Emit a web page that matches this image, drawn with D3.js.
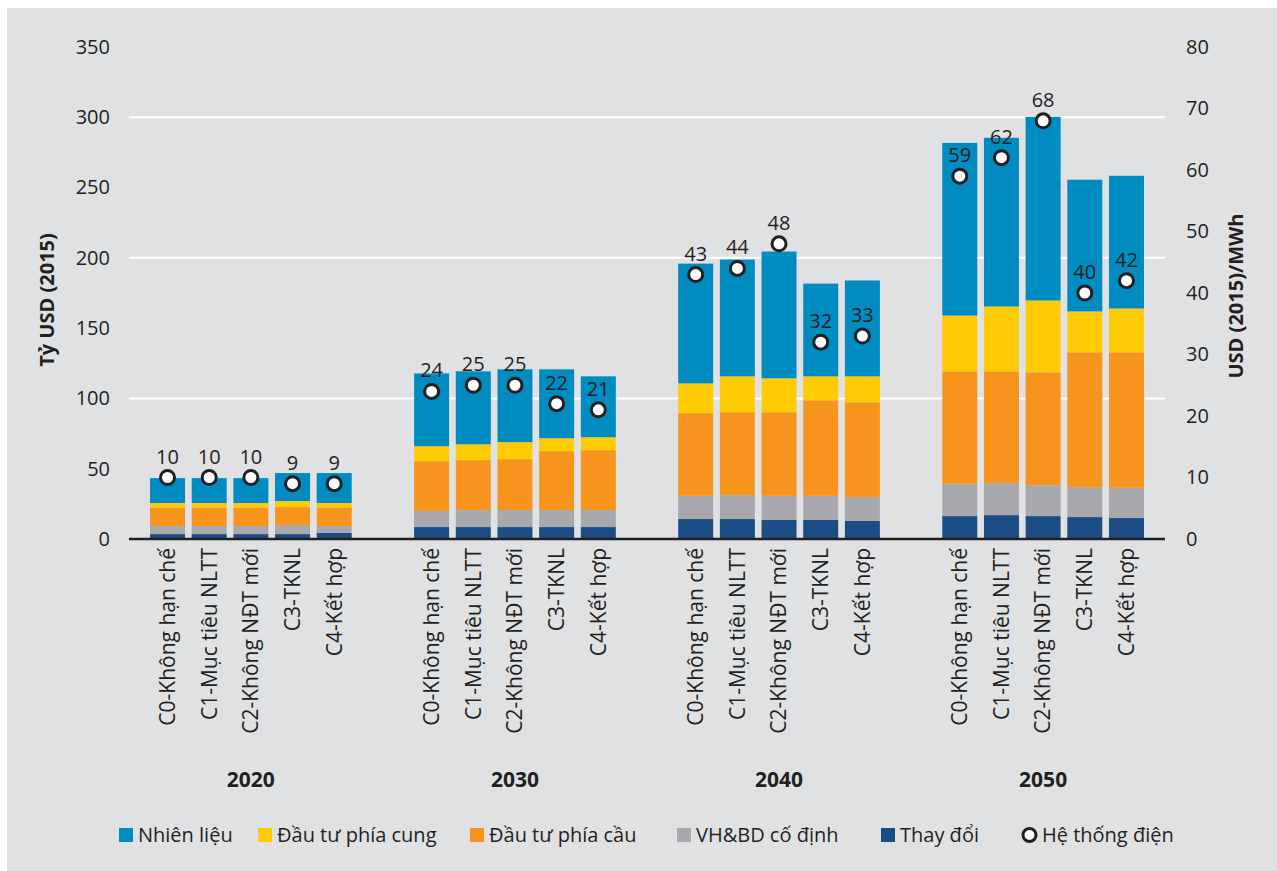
<!DOCTYPE html>
<html lang="vi">
<head>
<meta charset="utf-8">
<script src="https://cdn.jsdelivr.net/npm/d3@7"></script>
<style>
  html, body { margin: 0; padding: 0; background: #ffffff; }
  svg { display: block; }
  text { font-family: "Open Sans", "Noto Sans", sans-serif; fill: #231f20; }
</style>
</head>
<body>
<svg id="chart" width="1277" height="871"></svg>
<script>
// Years and scenarios on the category axis
const years = ["2020", "2030", "2040", "2050"];
const scenarios = ["C0-Không hạn chế", "C1-Mục tiêu NLTT", "C2-Không NĐT mới", "C3-TKNL", "C4-Kết hợp"];

// Cost components, billion USD (2015); 5 scenarios per year, year by year
const thayDoi    = [3.5, 3.5, 3.5, 3.5, 4.3,   8.5, 8.5, 8.5, 8.5, 8.5,   14.2, 14.2, 13.5, 13.5, 12.8,   16.3, 17.0, 16.3, 15.6, 14.9];
const vhbdCoDinh = [5.7, 5.7, 5.7, 6.4, 4.9,   11.4, 12.1, 12.1, 12.1, 12.1,   16.5, 17.0, 17.2, 17.2, 17.0,   23.0, 22.8, 22.0, 21.3, 21.5];
const dauTuCau   = [13.3, 13.3, 13.3, 12.8, 13.3,   35.5, 35.5, 36.2, 41.9, 42.6,   58.8, 59.0, 59.5, 68.0, 67.5,   80.0, 79.5, 80.3, 95.9, 96.4];
const dauTuCung  = [3.1, 3.1, 3.1, 4.3, 3.1,   10.6, 11.3, 12.1, 9.2, 9.2,   21.2, 25.5, 24.1, 17.0, 18.4,   39.7, 46.1, 51.1, 29.1, 31.2];
const nhienLieu  = [17.7, 17.7, 17.7, 19.9, 21.3,   51.8, 51.9, 51.8, 49.0, 43.3,   85.2, 83.1, 90.2, 66.0, 68.2,   122.8, 120.0, 130.6, 93.7, 94.4];

// System cost, USD (2015)/MWh (right axis)
const heThongDien = [10, 10, 10, 9, 9,   24, 25, 25, 22, 21,   43, 44, 48, 32, 33,   59, 62, 68, 40, 42];

// Axis ticks
const leftTicks = [0, 50, 100, 150, 200, 250, 300, 350];
const rightTicks = [0, 10, 20, 30, 40, 50, 60, 70, 80];
const gridTicks = [100, 200, 300];

// Series names (bottom to top of each stack) and legend entries
const seriesKeys = ["Thay đổi", "VH&BD cố định", "Đầu tư phía cầu", "Đầu tư phía cung", "Nhiên liệu"];
const seriesColors = ["#1b4c84", "#a7a9ac", "#f7941d", "#ffcb05", "#008bc1"];
const legendOrder = ["Nhiên liệu", "Đầu tư phía cung", "Đầu tư phía cầu", "VH&BD cố định", "Thay đổi"];
const lineLabel = "Hệ thống điện";

const ink = "#231f20";
const svg = d3.select("#chart");

// Panel background
svg.append("rect").attr("x", 7).attr("y", 8).attr("width", 1270).attr("height", 863).attr("fill", "#e0e1e3");

const plot = { left: 129, right: 1165, top: 47, bottom: 539 };

const x0 = d3.scaleBand().domain(years).range([plot.left, plot.right]).paddingInner(0.211).paddingOuter(0.067);
const x1 = d3.scaleBand().domain(scenarios).range([0, x0.bandwidth()]).paddingInner(0.16).paddingOuter(0.08);
const yL = d3.scaleLinear().domain([0, 350]).range([plot.bottom, plot.top]);
const yR = d3.scaleLinear().domain([0, 80]).range([plot.bottom, plot.top]);
const color = d3.scaleOrdinal().domain(seriesKeys).range(seriesColors);

// Rows: one per bar
const rows = [];
years.forEach((yr, i) => scenarios.forEach((sc, j) => {
  const k = i * scenarios.length + j;
  rows.push({
    year: yr, scenario: sc,
    "Thay đổi": thayDoi[k],
    "VH&BD cố định": vhbdCoDinh[k],
    "Đầu tư phía cầu": dauTuCau[k],
    "Đầu tư phía cung": dauTuCung[k],
    "Nhiên liệu": nhienLieu[k],
    system: heThongDien[k]
  });
}));
const cx = d => x0(d.year) + x1(d.scenario) + x1.bandwidth() / 2;

// Gridlines
svg.append("g").selectAll("line").data(gridTicks).join("line")
  .attr("x1", plot.left).attr("x2", plot.right)
  .attr("y1", d => yL(d)).attr("y2", d => yL(d))
  .attr("stroke", "#ffffff").attr("stroke-width", 2);

// Stacked bars
const stacked = d3.stack().keys(seriesKeys)(rows);
svg.append("g").selectAll("g").data(stacked).join("g")
  .attr("fill", s => color(s.key))
  .selectAll("rect").data(s => s).join("rect")
  .attr("x", d => x0(d.data.year) + x1(d.data.scenario))
  .attr("width", x1.bandwidth())
  .attr("y", d => yL(d[1]))
  .attr("height", d => yL(d[0]) - yL(d[1]));

// Baseline
svg.append("line").attr("x1", plot.left).attr("x2", plot.right)
  .attr("y1", yL(0)).attr("y2", yL(0)).attr("stroke", ink).attr("stroke-width", 2.5);

// Left axis
const axL = svg.append("g").attr("transform", `translate(${plot.left},0)`)
  .call(d3.axisLeft(yL).tickValues(leftTicks).tickSize(0).tickPadding(19));
axL.select(".domain").remove();
axL.selectAll("text").attr("font-size", 20).attr("font-family", null).attr("fill", ink);

// Right axis
const axR = svg.append("g").attr("transform", `translate(${plot.right},0)`)
  .call(d3.axisRight(yR).tickValues(rightTicks).tickSize(0).tickPadding(21));
axR.select(".domain").remove();
axR.selectAll("text").attr("font-size", 20).attr("font-family", null).attr("fill", ink);

// Axis titles
svg.append("text").attr("transform", "translate(47,300) rotate(-90)")
  .attr("text-anchor", "middle").attr("dy", "0.35em")
  .attr("font-size", 20).attr("font-weight", 700).text("Tỷ USD (2015)");
svg.append("text").attr("transform", "translate(1236,296) rotate(-90)")
  .attr("text-anchor", "middle").attr("dy", "0.35em")
  .attr("font-size", 20).attr("font-weight", 700).text("USD (2015)/MWh");

// Scenario labels (rotated) and year labels
svg.append("g").selectAll("text").data(rows).join("text")
  .attr("transform", d => `translate(${cx(d)},548) rotate(-90)`)
  .attr("text-anchor", "end").attr("dy", "0.35em")
  .attr("font-size", 21).text(d => d.scenario);
svg.append("g").selectAll("text").data(years).join("text")
  .attr("x", d => x0(d) + x0.bandwidth() / 2).attr("y", 787)
  .attr("text-anchor", "middle").attr("font-size", 21).attr("font-weight", 700).text(d => d);

// System cost markers with value labels
const marks = svg.append("g");
marks.selectAll("circle").data(rows).join("circle")
  .attr("cx", cx).attr("cy", d => yR(d.system)).attr("r", 7)
  .attr("fill", "#ffffff").attr("stroke", ink).attr("stroke-width", 3);
marks.selectAll("text").data(rows).join("text")
  .attr("x", cx).attr("y", d => yR(d.system) - 14)
  .attr("text-anchor", "middle").attr("font-size", 20).text(d => d.system);

// Legend
const legendX = [119, 258, 470, 677, 881];
const legendY = 835;
const lg = svg.append("g");
legendOrder.forEach((name, i) => {
  lg.append("rect").attr("x", legendX[i]).attr("y", legendY - 7).attr("width", 14).attr("height", 14).attr("fill", color(name));
  lg.append("text").attr("x", legendX[i] + 19).attr("y", legendY).attr("dy", "0.35em").attr("font-size", 20).text(name);
});
lg.append("circle").attr("cx", 1029.5).attr("cy", legendY).attr("r", 6.5)
  .attr("fill", "#ffffff").attr("stroke", ink).attr("stroke-width", 3);
lg.append("text").attr("x", 1042).attr("y", legendY).attr("dy", "0.35em").attr("font-size", 20).text(lineLabel);
</script>
</body>
</html>
